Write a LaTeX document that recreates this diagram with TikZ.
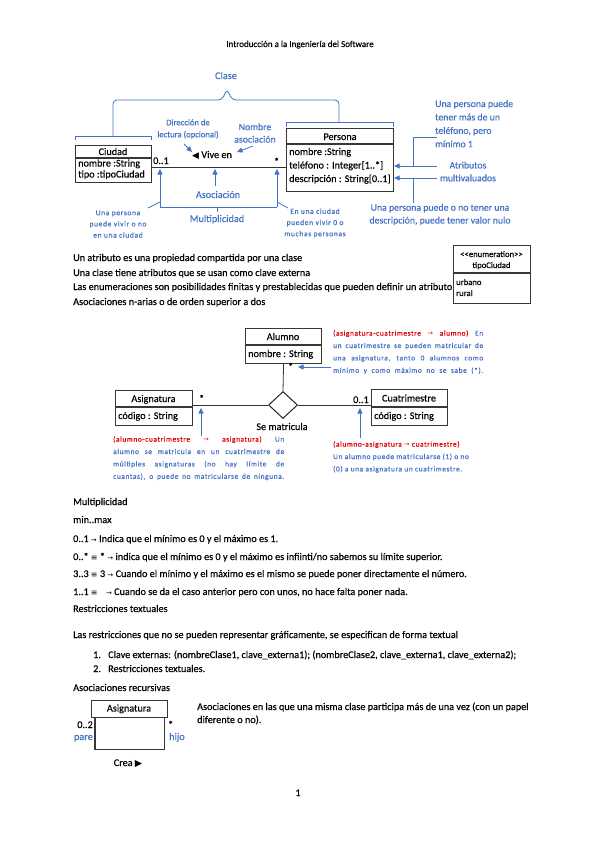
\documentclass[tikz,border=0pt]{standalone}
\usepackage{fontspec}
\setmainfont{Carlito}[FakeBold=0.35]
\newfontfamily\dv{DejaVu Sans}
\newfontfamily\notef{Carlito}[LetterSpace=8,FakeBold=0.35]
\usetikzlibrary{shapes.geometric,arrows.meta}
\definecolor{ublue}{RGB}{68,114,196}
\definecolor{ured}{RGB}{225,0,0}
\definecolor{boxc}{RGB}{55,55,55}
\newcommand\fsz[2]{\fontsize{#1}{#2}\selectfont}
\newcommand\arr{{\dv\fsz{7}{8}→}}
\newcommand\sarr{{\dv\fsz{6.5}{8}→}}
\newcommand\jl[2]{\makebox[#1][s]{#2}}
\begin{document}
\begin{tikzpicture}[x=1pt,y=-1pt,
  tx/.style={inner sep=0pt, anchor=base west, font=\fsz{10.2}{12}},
  tc/.style={inner sep=0pt, anchor=base, font=\fsz{10.2}{12}},
  cls/.style={draw=boxc, line width=1.1pt, inner sep=0pt, anchor=north west},
  sep/.style={draw=boxc, line width=1.1pt},
  assoc/.style={draw=black!80, line width=0.8pt},
  bl/.style={draw=ublue, line width=0.8pt},
  barr/.style={bl, -{Triangle[length=5.5pt,width=5pt]}},
  bt/.style={text=ublue},
  small/.style={inner sep=0pt, align=center, font=\notef\fsz{7.6}{11.2}, text=ublue},
  note/.style={inner sep=0pt, anchor=north west, align=left, font=\notef\fsz{7.4}{12.4}, text=ublue},
]
\fill[white] (0,0) rectangle (599,848);
\useasboundingbox (0,0) rectangle (599,848);

\node[tc] (title) at (300,47) {\fsz{9}{11}Introducción a la Ingeniería del Software};

% ---------- top diagram ----------
\node[tc, bt] (clase) at (226,79) {Clase};
\draw[bl] (75,140) -- (75,136) -- (151,136) -- (151,140);
\draw[bl, rounded corners=4pt] (113,136) -- (113,100) -- (222,100) -- (227,89) -- (232,100) -- (339,100) -- (339,122);
\draw[bl] (286,127) -- (286,122) -- (393,122) -- (393,127);

\node[cls, minimum width=76pt, minimum height=37pt] (ciudad) at (75,145) {};
\draw[sep] (75,158) -- (151,158);
\node[tc] (ciudadT) at (113,155) {Ciudad};
\node[tx] (ciudadA1) at (78,166.5) {nombre :String};
\node[tx] (ciudadA2) at (78,177.5) {tipo :tipoCiudad};

\node[cls, minimum width=107pt, minimum height=63pt] (persona) at (286,128) {};
\draw[sep] (286,144) -- (393,144);
\node[tc] (personaT) at (340,140) {Persona};
\node[tx] (personaA1) at (289,155) {nombre :String};
\node[tx] (personaA2) at (289,168.5) {teléfono : Integer[1..*]};
\node[tx] (personaA3) at (289,182) {descripción : String[0..1]};

\draw[assoc] (ciudad.east |- 0,167) -- (persona.west |- 0,167);
\node[tx] (m01) at (153,164) {0..1};
\node[tx] (mst) at (274,165) {*};
\node[tx] (vive) at (192,158) {{\dv\fsz{9}{9}◀} Vive en};

\node[small, font=\fsz{8.6}{12}] (dir) at (188,129) {Dirección de\\lectura (opcional)};
\coordinate (dirS) at (184,144);
\coordinate (dirE) at (192,152);
\draw[barr] (dirS) -- (dirE);
\node[small, font=\fsz{9.8}{12.5}] (nom) at (255,133) {Nombre\\asociación};
\coordinate (nomS) at (253,146);
\coordinate (nomE) at (237,152);
\draw[barr] (nomS) -- (nomE);

\coordinate (asoS) at (215,186);
\coordinate (asoE) at (215,169);
\draw[barr] (asoS) -- (asoE);
\node[tc, bt] (asoc) at (218,198) {Asociación};

\coordinate (mL) at (160,169);
\coordinate (mR) at (277,169);
\draw[barr] (160,207) -- (mL);
\draw[barr] (277,207) -- (mR);
\draw[bl] (160,207) -- (277,207);
\draw[bl] (217,207) -- (217,212);
\node[tc, bt] (multi) at (217,222) {Multiplicidad};
\draw[bl] (160,202) -- (148,208);
\draw[bl] (277,202) -- (288,208);
\node[small] (nL) at (118,224) {Una persona\\puede vivir o no\\en una ciudad};
\node[small] (nR) at (315,223) {En una ciudad\\pueden vivir 0 o\\muchas personas};

% right side notes
\node[inner sep=0pt, anchor=north west, align=left, font=\fsz{9.8}{13.4}, text=ublue] (telN) at (435,100) {Una persona puede\\tener más de un\\teléfono, pero\\mínimo 1};
\node[small, font=\fsz{9.8}{12.8}] (atr) at (468,171.5) {Atributos\\multivaluados};
\node[small, font=\fsz{9.8}{12.8}] (descN) at (440,214.5) {Una persona puede o no tener una\\descripción, puede tener valor nulo};
\coordinate (a1S) at (437,166);
\coordinate (a2S) at (437,178);
\draw[bl] (437,137) -- (413,137) -- (413,166);
\draw[barr] (a1S) -- (persona.east |- a1S);
\draw[barr] (a2S) -- (persona.east |- a2S);
\draw[bl] (413,178) -- (413,203);

% ---------- paragraphs ----------
\node[tx] (p1) at (73,261) {Un atributo es una propiedad compartida por una clase};
\node[tx] (p2) at (73,276) {Una clase tiene atributos que se usan como clave externa};
\node[tx] (p3) at (73,290) {Las enumeraciones son posibilidades finitas y prestablecidas que pueden definir un atributo};
\node[tx] (p4) at (73,305) {Asociaciones n-arias o de orden superior a dos};

\node[cls, minimum width=77pt, minimum height=58pt] (enum) at (453,245) {};
\draw[sep] (453,273) -- (530,273);
\node[tc, font=\fsz{8.6}{10}] (enumA) at (491.5,257) {{<}{<}enumeration{>}{>}};
\node[tc, font=\fsz{8.6}{10}] (enumB) at (491.5,268) {tipoCiudad};
\node[tx, font=\fsz{8.6}{10}] (enumC) at (456,285) {urbano};
\node[tx, font=\fsz{8.6}{10}] (enumD) at (456,296) {rural};

% ---------- n-ary ----------
\node[cls, minimum width=76pt, minimum height=35pt] (alumno) at (245,328) {};
\draw[sep] (245,345) -- (321,345);
\node[tc] (alumnoT) at (283,340) {Alumno};
\node[tx] (alumnoA) at (248,357) {nombre : String};

\node[cls, minimum width=77pt, minimum height=35pt] (asig) at (115,390) {};
\draw[sep] (115,407) -- (192,407);
\node[tc] (asigT) at (153.5,402) {Asignatura};
\node[tx] (asigA) at (118,419) {código : String};

\node[cls, minimum width=76pt, minimum height=36pt] (cuat) at (371,389) {};
\draw[sep] (371,407) -- (447,407);
\node[tc] (cuatT) at (409,401.5) {Cuatrimestre};
\node[tx] (cuatA) at (374,419) {código : String};

\node[diamond, draw=black!85, line width=1pt, minimum width=29pt, minimum height=27pt, inner sep=0pt] (dia) at (283,405) {};
\draw[assoc] (alumno.south) -- (dia.north);
\draw[assoc] (asig.east |- dia.west) -- (dia.west);
\draw[assoc] (dia.east) -- (cuat.west |- dia.east);
\node[tc] (sem) at (282,430) {Se matricula};
\node[tx] (st1) at (288,370) {*};
\node[tx] (st2) at (199,402) {*};
\node[tx] (c01) at (353,403) {0..1};

\coordinate (n1S) at (331,367);
\draw[barr] (n1S) -- (298,367);
\coordinate (n2S) at (201,436);
\draw[barr] (n2S) -- (201,408);
\coordinate (n3S) at (360,438);
\draw[barr] (n3S) -- (360,408);

\node[note] (noteA) at (333,330) {\jl{150pt}{\textcolor{ured}{(asignatura-cuatrimestre \sarr{} alumno)} En}\\\jl{150pt}{un cuatrimestre se pueden matricular de}\\\jl{150pt}{una asignatura, tanto 0 alumnos como}\\\jl{150pt}{mínimo y como máximo no se sabe (*).}};
\node[note] (noteB) at (113,436) {\jl{171pt}{\textcolor{ured}{(alumno-cuatrimestre \sarr{} asignatura)} Un}\\\jl{171pt}{alumno se matricula en un cuatrimestre de}\\\jl{171pt}{múltiples asignaturas (no hay límite de}\\\jl{171pt}{cuantas), o puede no matricularse de ninguna.}};
\node[note] (noteC) at (333,441) {\textcolor{ured}{(alumno-asignatura \sarr{} cuatrimestre)}\\Un alumno puede matricularse (1) o no\\(0) a una asignatura un cuatrimestre.};

% ---------- multiplicidad ----------
\node[tx] (h1) at (73,505) {Multiplicidad};
\node[tx] (l0) at (73,523) {min..max};
\node[tx] (l1) at (73,542) {0..1 \arr{} Indica que el mínimo es 0 y el máximo es 1.};
\node[tx] (l2) at (73,560) {0..* {\dv\fsz{8}{9}≡} * \arr{} indica que el mínimo es 0 y el máximo es infiinti/no sabemos su límite superior.};
\node[tx] (l3) at (73,577) {3..3 {\dv\fsz{8}{9}≡} 3 \arr{} Cuando el mínimo y el máximo es el mismo se puede poner directamente el número.};
\node[tx] (l4) at (73,595) {1..1 {\dv\fsz{8}{9}≡}\hspace{6pt} \arr{} Cuando se da el caso anterior pero con unos, no hace falta poner nada.};
\node[tx] (h2) at (73,612) {Restricciones textuales};
\node[tx] (r0) at (73,638) {Las restricciones que no se pueden representar gráficamente, se especifican de forma textual};
\node[tx] (r1n) at (93,658) {1.};
\node[tx] (r1) at (108,658) {Clave externas: (nombreClase1, clave\_externa1); (nombreClase2, clave\_externa1, clave\_externa2);};
\node[tx] (r2n) at (93,672) {2.};
\node[tx] (r2) at (108,672) {Restricciones textuales.};
\node[tx] (h3) at (73,691) {Asociaciones recursivas};

% ---------- recursive ----------
\node[cls, minimum width=76pt, minimum height=17pt] (asigR) at (91,700) {};
\node[tc] (asigRT) at (129,711.5) {Asignatura};
\draw[draw=boxc, line width=1.1pt] ([xshift=4pt]asigR.south west) -- ++(0,31) -| ([xshift=-4pt]asigR.south east);
\node[inner sep=0pt, anchor=base east, font=\fsz{10.2}{12}] (r02) at (93,728) {0..2};
\node[inner sep=0pt, anchor=base east, font=\fsz{10.2}{12}, text=ublue] (pare) at (93,740) {pare};
\node[tx] (rst) at (168,728) {*};
\node[tx, bt] (hijo) at (169,740) {hijo};
\node[tc] (crea) at (128,766) {Crea {\dv\fsz{9.5}{10}▶}};
\node[tx] (rt1) at (197,710) {Asociaciones en las que una misma clase participa más de una vez (con un papel};
\node[tx] (rt2) at (197,723) {diferente o no).};

\node[tc] (pnum) at (298,796) {1};
\end{tikzpicture}
\end{document}
